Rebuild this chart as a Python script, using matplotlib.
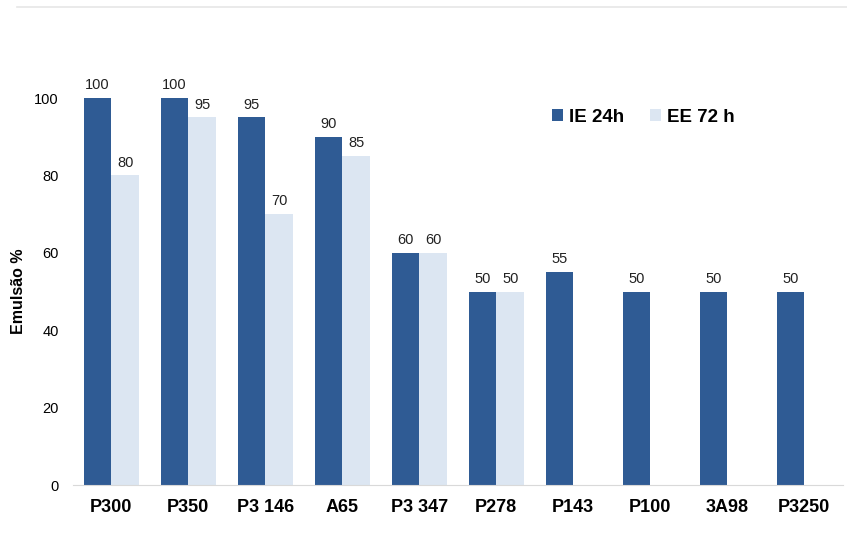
import numpy as np
import matplotlib.pyplot as plt
from matplotlib.lines import Line2D

plt.rcParams["font.family"] = ["Liberation Sans", "DejaVu Sans"]

# ------------------------------
# Data
# ------------------------------
categories = ["P300", "P350", "P3 146", "A65", "P3 347", "P278", "P143", "P100", "3A98", "P3250"]
ie_24h = [100, 100, 95, 90, 60, 50, 55, 50, 50, 50]
ee_72h = [80, 95, 70, 85, 60, 50, None, None, None, None]
y_ticks = [0, 20, 40, 60, 80, 100]

DARK = "#2F5B94"
LIGHT = "#DCE6F2"

fig = plt.figure(figsize=(8.47, 5.57), dpi=100)
ax = fig.add_axes([0.086, 0.129, 0.909, 0.695])

x = np.arange(len(categories))
w = 0.36
ee_vals = [v if v is not None else 0 for v in ee_72h]
ax.bar(x - w / 2, ie_24h, width=w, color=DARK, label="IE 24h", zorder=2)
ax.bar(x + w / 2, ee_vals, width=w, color=LIGHT, label="EE 72 h", zorder=2)

# value labels
for i, v in enumerate(ie_24h):
    ax.text(x[i] - w / 2, v + 1.5, f"{v}", ha="center", va="bottom", fontsize=10.5, color="#222222", clip_on=False)
for i, v in enumerate(ee_72h):
    if v is not None:
        ax.text(x[i] + w / 2, v + 1.5, f"{v}", ha="center", va="bottom", fontsize=10.5, color="#222222", clip_on=False)

ax.set_xlim(-0.5, len(categories) - 0.5)
ax.set_ylim(0, 100)
ax.set_yticks(y_ticks)
ax.set_xticks(x)
ax.set_xticklabels(categories, fontsize=13, fontweight="bold")
ax.tick_params(axis="y", length=0, labelsize=10.5, pad=10)
ax.tick_params(axis="x", length=0, pad=10)

for s in ["top", "right", "left"]:
    ax.spines[s].set_visible(False)
ax.spines["bottom"].set_color("#D9D9D9")

# y label placed in figure coordinates so it stays inside the canvas
fig.text(0.022, 0.478, "Emulsão %", rotation=90, ha="center", va="center",
         fontsize=11.5, fontweight="bold")

ax.legend(loc="center left", bbox_to_anchor=(0.6, 0.95), ncol=2, frameon=False,
          prop={"size": 13.5, "weight": "bold"}, handlelength=0.6, handleheight=0.6,
          handletextpad=0.3, columnspacing=1.4)

# thin gray rule at the top
fig.add_artist(Line2D([0.02, 1.0], [0.988, 0.988], transform=fig.transFigure, color="#E6E6E6", lw=1.2))

fig.savefig("out.png", dpi=100)
